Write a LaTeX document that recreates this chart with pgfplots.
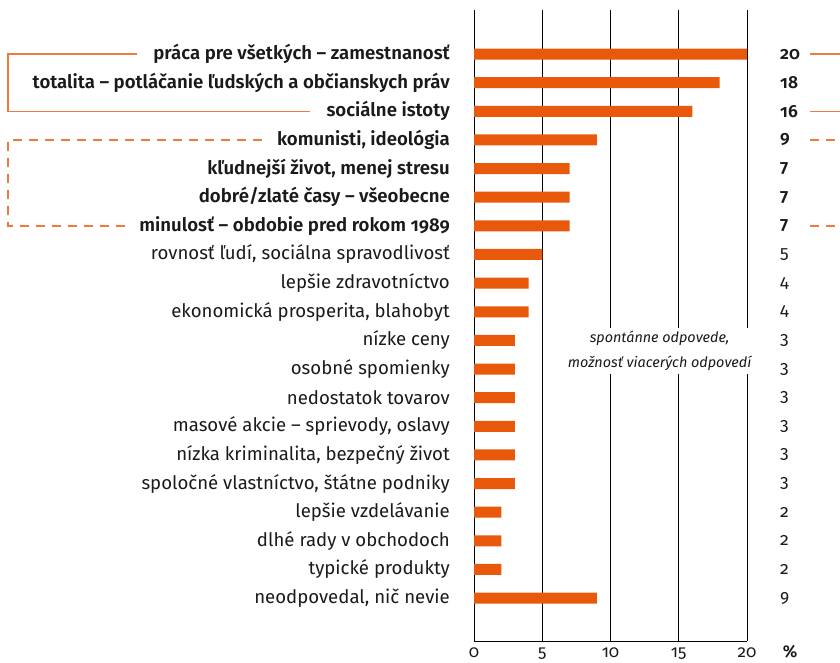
\documentclass[border=0pt]{standalone}
\usepackage{fontspec}
\setmainfont{Fira Sans}[Numbers=OldStyle, BoldFont={Fira Sans SemiBold}, BoldItalicFont={Fira Sans SemiBold Italic}]
\usepackage{pgfplots}
\pgfplotsset{compat=1.18}
\usepackage{pgfplotstable}
\definecolor{barorange}{HTML}{E8590C}
\definecolor{brorange}{HTML}{F07A3C}
\definecolor{txt}{HTML}{1A1A1A}
\pgfplotstableread{
idx val
0 20
1 18
2 16
3 9
4 7
5 7
6 7
7 5
8 4
9 4
10 3
11 3
12 3
13 3
14 3
15 3
16 2
17 2
18 2
19 9
}\data
\begin{document}
\begin{tikzpicture}[font=\fontsize{18.6}{22}\selectfont, text=txt]
\begin{axis}[
  at={(474pt,22pt)}, anchor=south west,
  scale only axis, width=273pt, height=631pt,
  clip=false,
  xmin=0, xmax=20, ymin=-1.54, ymax=20.5, y dir=reverse,
  axis x line=bottom, axis y line=left,
  axis line style={-, black, line width=1pt},
  xtick={0,5,10,15,20}, xmajorgrids, grid style={black, line width=1pt},
  major tick length=0pt,
  ytick={0,...,19},
  yticklabels={
    {\bfseries práca pre všetkých – zamestnanosť},
    {\bfseries totalita – potláčanie ľudských a občianskych práv},
    {\bfseries sociálne istoty},
    {\bfseries komunisti, ideológia},
    {\bfseries kľudnejší život, menej stresu},
    {\bfseries dobré/zlaté časy – všeobecne},
    {\bfseries minulosť – obdobie pred rokom 1989},
    {rovnosť ľudí, sociálna spravodlivosť},
    {lepšie zdravotníctvo},
    {ekonomická prosperita, blahobyt},
    {nízke ceny},
    {osobné spomienky},
    {nedostatok tovarov},
    {masové akcie – sprievody, oslavy},
    {nízka kriminalita, bezpečný život},
    {spoločné vlastníctvo, štátne podniky},
    {lepšie vzdelávanie},
    {dlhé rady v obchodoch},
    {typické produkty},
    {neodpovedal, nič nevie}},
  yticklabel style={font=\fontsize{18.6}{22}\selectfont, anchor=east, inner sep=0pt, xshift=-24pt},
  xticklabel style={font=\fontsize{17}{20}\selectfont, anchor=base, inner sep=0pt, yshift=-16pt},
  /pgf/number format/assume math mode=true,
]
\addplot[xbar, fill=barorange, draw=none, bar width=11pt] table[x=val, y=idx]{\data};
\addplot[draw=none, nodes near coords, point meta=explicit symbolic,
  nodes near coords style={anchor=west, inner sep=0pt, font=\fontsize{17.5}{20}\selectfont}]
  coordinates {
  (22.42,0) [\bfseries 20] (22.42,1) [\bfseries 18] (22.42,2) [\bfseries 16]
  (22.42,3) [\bfseries 9] (22.42,4) [\bfseries 7] (22.42,5) [\bfseries 7]
  (22.42,6) [\bfseries 7] (22.42,7) [5] (22.42,8) [4] (22.42,9) [4]
  (22.42,10) [3] (22.42,11) [3] (22.42,12) [3] (22.42,13) [3]
  (22.42,14) [3] (22.42,15) [3] (22.42,16) [2] (22.42,17) [2]
  (22.42,18) [2] (22.42,19) [9]};
\node[font=\bfseries\fontsize{17}{20}\selectfont, anchor=base] at (axis cs:23.15,21.08) {\%};
\node[fill=white, align=center, inner sep=3pt, font=\itshape\fontsize{14.4}{25}\selectfont] at (axis cs:13.6,10.38) {spontánne odpovede,\\možnosť viacerých odpovedí};
\draw[brorange, line width=1.3pt] (axis cs:-24.69,0) -- (axis cs:-34.14,0) -- (axis cs:-34.14,2) -- (axis cs:-12.01,2);
\draw[brorange, line width=1.3pt] (axis cs:24.62,0) -- (axis cs:26.9,0);
\draw[brorange, line width=1.3pt] (axis cs:24.62,2) -- (axis cs:26.9,2);
\draw[brorange, line width=1.3pt, dash pattern=on 9pt off 7pt] (axis cs:-15.53,3) -- (axis cs:-34.14,3) -- (axis cs:-34.14,6) -- (axis cs:-25.57,6);
\draw[brorange, line width=1.3pt, dash pattern=on 9pt off 7pt] (axis cs:24.62,3) -- (axis cs:26.9,3);
\draw[brorange, line width=1.3pt, dash pattern=on 9pt off 7pt] (axis cs:24.62,6) -- (axis cs:26.9,6);
\end{axis}
\pgfresetboundingbox
\useasboundingbox (0,0) rectangle (840pt,663pt);
\end{tikzpicture}
\end{document}
